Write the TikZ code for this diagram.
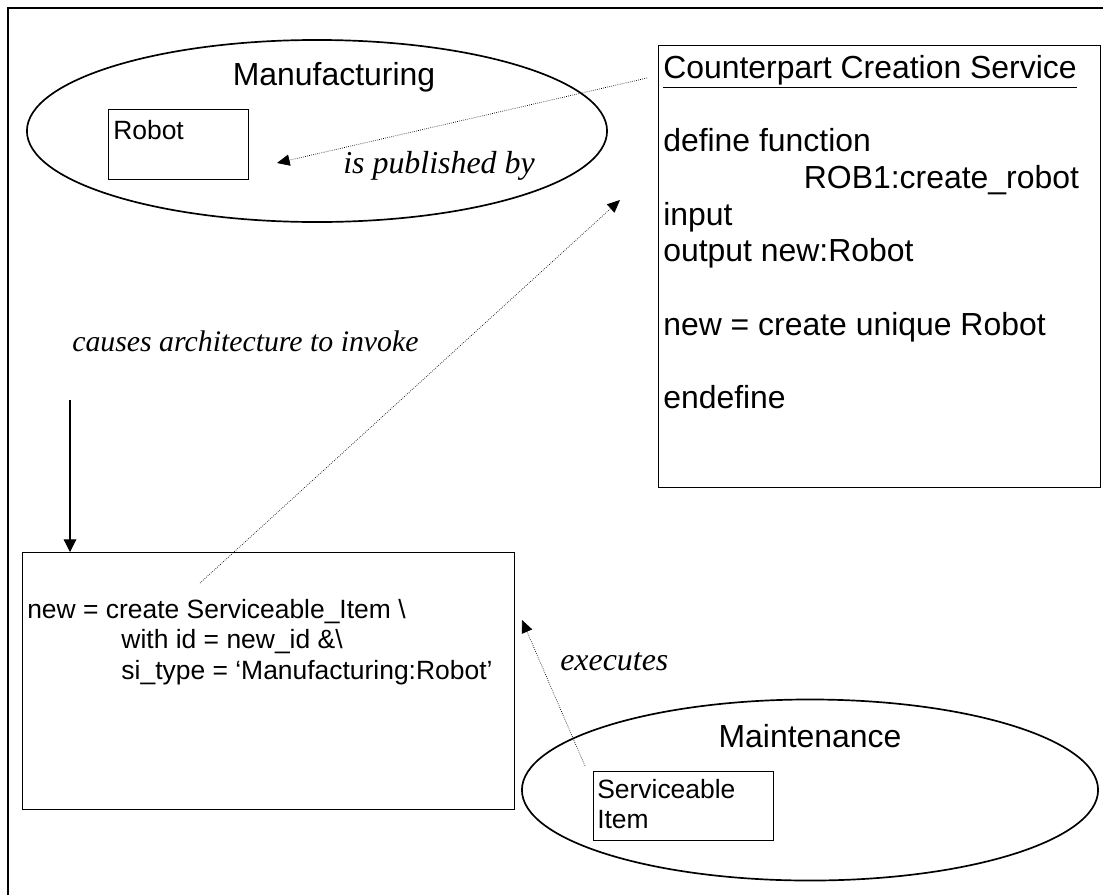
\documentclass[tikz,border=0pt]{standalone}
\usepackage{fontspec}
\setmainfont{Liberation Sans}
\newfontfamily\serifit{Liberation Serif}
\usetikzlibrary{arrows.meta, shapes.geometric}

\begin{document}
\begin{tikzpicture}[x = 0.025cm, y = -0.025cm,
	box/.style = {draw, line width = 0.8pt, anchor = north west, inner sep = 0},
	region/.style = {draw, ellipse, line width = 1.2pt, inner sep = 0},
	bigtext/.style = {font = \fontsize{22.7}{26.1}\selectfont, inner sep = 0},
	smalltext/.style = {font = \fontsize{18.8}{21.6}\selectfont, inner sep = 0},
	relation/.style = {font = \serifit\itshape\fontsize{22.7}{26}\selectfont, anchor = base west, inner sep = 0},
	link/.style = {densely dotted, line width = 0.5pt, -{Triangle[length = 9pt, width = 8pt]}}]
	\useasboundingbox (0,0) rectangle (1103,895);

	% frame
	\draw [line width = 2pt] (8,895) -- (8,8) -- (1103,8);

	% manufacturing side
	\node [region, minimum width = 14.5cm, minimum height = 4.55cm] (manuf) at (317,131) {};
	\node [bigtext, anchor = base] (manuflabel) at (334,85) {Manufacturing};
	\node [box, minimum width = 3.5cm, minimum height = 1.75cm] (robot) at (108,109) {};
	\node [smalltext, anchor = base west] (robotlabel) at (113,139) {Robot};

	% counterpart creation service
	\node [box, minimum width = 11.05cm, minimum height = 11.05cm] (service) at (658,45) {};
	\node [bigtext, anchor = north west, align = left] (servicetext) at (663,55) {%
		\underline{Counterpart Creation Service}\\ \mbox{}\\
		define function\\
		\hspace*{100pt}ROB1:create\_robot\\
		input\\
		output new:Robot\\ \mbox{}\\
		new = create unique Robot\\ \mbox{}\\
		endefine};

	% code
	\node [box, minimum width = 12.3cm, minimum height = 6.425cm] (code) at (22,552) {};
	\node [smalltext, anchor = north west, align = left] (codetext) at (27,599) {%
		new = create Serviceable\_Item \textbackslash\\
		\hspace*{67pt}with id = new\_id \&\textbackslash\\
		\hspace*{67pt}si\_type = ‘Manufacturing:Robot’};

	% maintenance side
	\node [region, minimum width = 14.4cm, minimum height = 4.525cm] (maint) at (810,790) {};
	\node [bigtext, anchor = base] (maintlabel) at (810,747) {Maintenance};
	\node [box, minimum width = 4.5cm, minimum height = 1.725cm] (item) at (593,771) {};
	\node [smalltext, anchor = north west, align = left] (itemlabel) at (597,779) {Serviceable\\Item};

	% relations
	\node [relation] (published) at (343,173) {is published by};
	\node [relation, font = \serifit\itshape\fontsize{21.2}{24}\selectfont] (invoke) at (72,351) {causes architecture to invoke};
	\node [relation] (executes) at (560,670) {executes};

	\coordinate (pubfrom) at (647,78);
	\coordinate (pubto) at (277,163);
	\coordinate (invfrom) at (200,583);
	\coordinate (invto) at (620,200);
	\coordinate (exefrom) at (585,766);
	\coordinate (exeto) at (522,620);
	\coordinate (callfrom) at (70,400);

	\draw [link] (pubfrom) -- (pubto);
	\draw [link] (invfrom) -- (invto);
	\draw [link] (exefrom) -- (exeto);
	\draw [line width = 0.8pt, -{Triangle[length = 9pt, width = 9pt]}] (callfrom) -- (callfrom |- code.north);
\end{tikzpicture}
\end{document}
